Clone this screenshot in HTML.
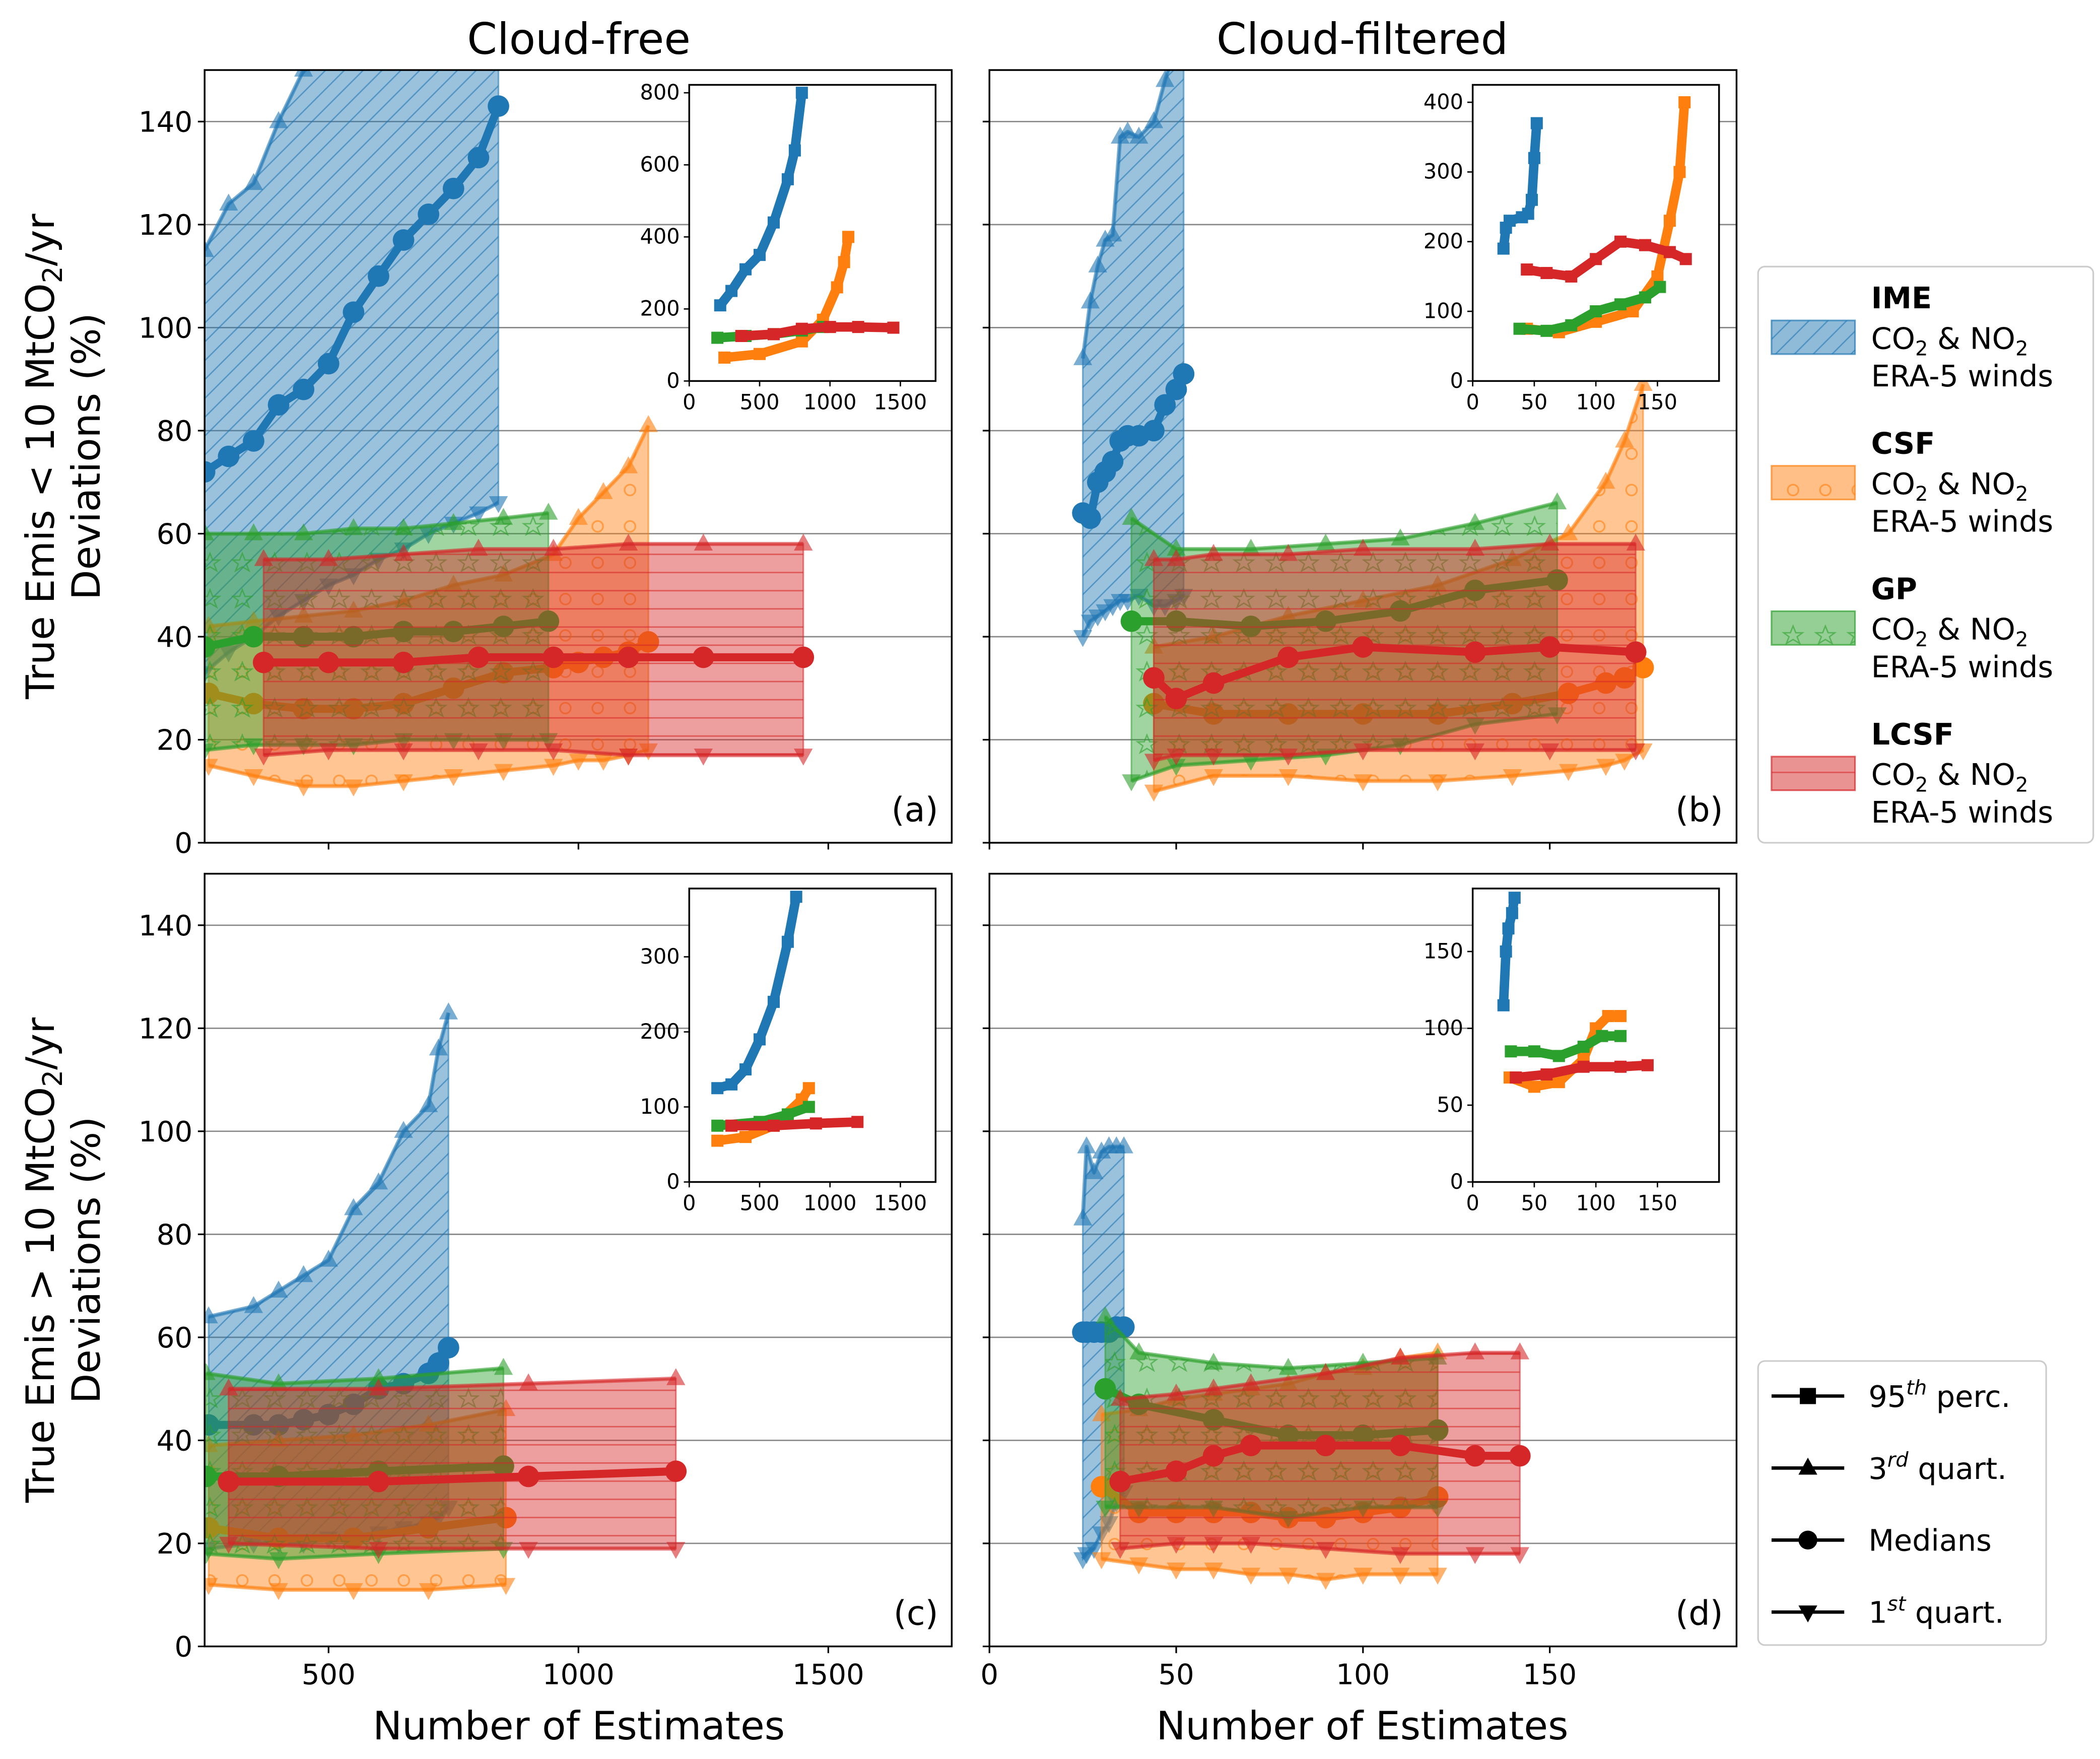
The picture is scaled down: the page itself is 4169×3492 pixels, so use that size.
<!DOCTYPE html>
<html><head><meta charset="utf-8"><style>
html,body{margin:0;padding:0;background:#fff;}
svg{display:block;font-family:"DejaVu Sans","Liberation Sans",sans-serif;}
</style></head><body>
<svg id="fig" width="4169" height="3492" viewBox="0 0 1560 1306.6" xmlns="http://www.w3.org/2000/svg">
<defs>
<pattern id="h-ime" patternUnits="userSpaceOnUse" width="14" height="14"><path d="M-2,16 L16,-2 M-2,2 L2,-2 M12,16 L16,12" stroke="#1f77b4" stroke-opacity="0.6" stroke-width="1"/></pattern>
<pattern id="h-csf" patternUnits="userSpaceOnUse" width="24" height="27"><circle cx="12" cy="13" r="4" fill="none" stroke="#ff7f0e" stroke-opacity="0.6" stroke-width="1.2"/></pattern>
<pattern id="h-gp" patternUnits="userSpaceOnUse" width="24" height="27"><path d="M12,6 L14,11 L19,11 L15,14 L17,19 L12,16 L7,19 L9,14 L5,11 L10,11 Z" fill="none" stroke="#2ca02c" stroke-opacity="0.6" stroke-width="1"/></pattern>
<pattern id="h-lcsf" patternUnits="userSpaceOnUse" width="20" height="13.5"><path d="M0,6.75 L20,6.75" stroke="#d62728" stroke-opacity="0.6" stroke-width="1"/></pattern>
</defs>
</svg>
<script>
// ---------- Panel (a) data ----------
const a_IME_x=[252,300,350,400,450,500,550,600,650,700,750,800,840];
const a_IME_q3=[115,124,128,140,150,165,180,200,215,230,250,270,290];
const a_IME_med=[72,75,78,85,88,93,103,110,117,122,127,133,143];
const a_IME_q1=[33,37,40,44,47,50,52,55,57,60,62,64,66];
const a_CSF_x=[260,350,450,550,650,750,850,950,1000,1050,1100,1140];
const a_CSF_q3=[42,43,44,45,47,50,52,56,63,68,73,81];
const a_CSF_med=[29,27,26,26,27,30,33,34,35,36,37,39];
const a_CSF_q1=[15,13,11,11,12,13,14,15,16,16,17,18];
const a_GP_x=[252,350,450,550,650,750,850,940];
const a_GP_q3=[60,60,60,61,61,62,63,64];
const a_GP_med=[38,40,40,40,41,41,42,43];
const a_GP_q1=[18,19,19,19,20,20,20,20];
const a_LCSF_x=[370,500,650,800,950,1100,1250,1450];
const a_LCSF_q3=[55,55,56,57,57,58,58,58];
const a_LCSF_med=[35,35,35,36,36,36,36,36];
const a_LCSF_q1=[17,18,18,18,18,17,17,17];
const a_in_IME_x=[220,300,400,500,600,700,750,800];
const a_in_IME_p95=[210,250,310,350,440,560,640,800];
const a_in_CSF_x=[250,500,800,950,1050,1100,1130];
const a_in_CSF_p95=[65,75,110,170,260,330,400];
const a_in_GP_x=[200,400,600,800,950];
const a_in_GP_p95=[120,125,130,140,150];
const a_in_LCSF_x=[370,600,800,1000,1200,1450];
const a_in_LCSF_p95=[125,130,145,150,150,148];
// ---------- Panel (b) data ----------
const b_IME_x=[25,27,29,31,33,35,37,40,44,47,50,52];
const b_IME_q3=[94,105,112,117,118,137,138,137,140,148,155,160];
const b_IME_med=[64,63,70,72,74,78,79,79,80,85,88,91];
const b_IME_q1=[40,43,44,45,46,47,47,48,46,46,47,48];
const b_CSF_x=[44,60,80,100,120,140,155,165,170,175];
const b_CSF_q3=[38,40,44,47,50,55,60,70,78,89];
const b_CSF_med=[27,25,25,25,25,27,29,31,32,34];
const b_CSF_q1=[10,13,13,12,12,13,14,15,16,18];
const b_GP_x=[38,50,70,90,110,130,152];
const b_GP_q3=[63,57,57,58,59,62,66];
const b_GP_med=[43,43,42,43,45,49,51];
const b_GP_q1=[12,15,16,17,19,23,25];
const b_LCSF_x=[44,50,60,80,100,130,150,173];
const b_LCSF_q3=[55,55,56,56,57,57,58,58];
const b_LCSF_med=[32,28,31,36,38,37,38,37];
const b_LCSF_q1=[16,17,17,17,18,18,18,18];
const b_in_IME_x=[25,27,30,40,45,48,50,52];
const b_in_IME_p95=[190,220,230,235,240,260,320,370];
const b_in_CSF_x=[44,70,100,130,150,160,168,172];
const b_in_CSF_p95=[75,70,85,100,150,230,300,400];
const b_in_GP_x=[38,60,80,100,120,140,152];
const b_in_GP_p95=[75,72,80,100,110,120,135];
const b_in_LCSF_x=[44,60,80,100,120,140,160,173];
const b_in_LCSF_p95=[160,155,150,175,200,195,185,175];
// ---------- Panel (c) data ----------
const c_IME_x=[260,350,400,450,500,550,600,650,700,720,740];
const c_IME_q3=[64,66,69,72,75,85,90,100,105,116,123];
const c_IME_med=[43,43,43,44,45,47,50,51,53,55,58];
const c_IME_q1=[19,20,20,20,21,21,22,23,24,25,27];
const c_CSF_x=[260,400,550,700,855];
const c_CSF_q3=[39,40,41,43,46];
const c_CSF_med=[23,21,21,23,25];
const c_CSF_q1=[12,11,11,11,12];
const c_GP_x=[255,400,600,850];
const c_GP_q3=[53,51,52,54];
const c_GP_med=[33,33,34,35];
const c_GP_q1=[18,17,18,19];
const c_LCSF_x=[300,600,900,1195];
const c_LCSF_q3=[50,50,51,52];
const c_LCSF_med=[32,32,33,34];
const c_LCSF_q1=[20,19,19,19];
const c_in_IME_x=[200,300,400,500,600,700,760];
const c_in_IME_p95=[125,130,150,190,240,320,380];
const c_in_CSF_x=[200,400,600,800,850];
const c_in_CSF_p95=[55,60,75,110,125];
const c_in_GP_x=[200,500,700,850];
const c_in_GP_p95=[75,80,90,100];
const c_in_LCSF_x=[300,600,900,1195];
const c_in_LCSF_p95=[75,75,78,80];
// ---------- Panel (d) data ----------
const d_IME_x=[25,26,28,30,32,34,36];
const d_IME_q3=[83,97,92,96,97,97,97];
const d_IME_med=[61,61,61,61,61,62,62];
const d_IME_q1=[17,18,19,22,24,28,30];
const d_CSF_x=[30,40,50,60,70,80,90,100,110,120];
const d_CSF_q3=[45,46,48,49,50,51,53,54,56,57];
const d_CSF_med=[31,26,26,26,26,25,25,26,27,29];
const d_CSF_q1=[17,16,15,15,14,14,13,14,14,14];
const d_GP_x=[31,40,60,80,100,120];
const d_GP_q3=[64,57,55,54,55,56];
const d_GP_med=[50,47,44,41,41,42];
const d_GP_q1=[27,27,27,25,27,27];
const d_LCSF_x=[35,50,60,70,90,110,130,142];
const d_LCSF_q3=[48,49,50,51,53,56,57,57];
const d_LCSF_med=[32,34,37,39,39,39,37,37];
const d_LCSF_q1=[19,20,20,20,19,18,18,18];
const d_in_IME_x=[25,27,29,32,34];
const d_in_IME_p95=[115,150,165,175,185];
const d_in_CSF_x=[30,50,70,90,100,110,120];
const d_in_CSF_p95=[68,62,65,80,100,108,108];
const d_in_GP_x=[31,50,70,90,105,120];
const d_in_GP_p95=[85,85,82,88,95,95];
const d_in_LCSF_x=[35,60,90,120,142];
const d_in_LCSF_p95=[68,70,75,75,76];

const yTicks=[0,20,40,60,80,100,120,140];
const aXTicks=[500,1000,1500];
const bXTicks=[0,50,100,150];
const inAXTicks=[0,500,1000,1500];
const inBXTicks=[0,50,100,150];
const inAYTicks=[0,200,400,600,800];
const inBYTicks=[0,100,200,300,400];
const inCYTicks=[0,100,200,300];
const inDYTicks=[0,50,100,150];

const NS='http://www.w3.org/2000/svg';
const svg=document.getElementById('fig');
const COL={IME:'#1f77b4',CSF:'#ff7f0e',GP:'#2ca02c',LCSF:'#d62728'};
function mk(tag,attrs,parent){const e=document.createElementNS(NS,tag);for(const k in attrs)e.setAttribute(k,attrs[k]);(parent||svg).appendChild(e);return e;}
function txt(s,x,y,size,anchor,parent,extra){const t=mk('text',Object.assign({x:x,y:y,'font-size':size,'text-anchor':anchor||'middle',fill:'#000'},extra||{}),parent);t.textContent=s;return t;}

function marker(g,type,x,y,c,s,op){
  let e;
  if(type==='o'){e=mk('circle',{cx:x,cy:y,r:s,fill:c,'fill-opacity':op},g);}
  else if(type==='^'){e=mk('path',{d:`M${x},${y-s*1.1} L${x+s},${y+s*0.7} L${x-s},${y+s*0.7} Z`,fill:c,'fill-opacity':op},g);}
  else if(type==='v'){e=mk('path',{d:`M${x},${y+s*1.1} L${x+s},${y-s*0.7} L${x-s},${y-s*0.7} Z`,fill:c,'fill-opacity':op},g);}
  else {e=mk('rect',{x:x-s,y:y-s,width:2*s,height:2*s,fill:c},g);}
  
  
}

function panel(P){
  const sx=v=>P.x0+(v-P.xmin)/(P.xmax-P.xmin)*(P.x1-P.x0);
  const sy=v=>P.y1-(v-0)/(150)*(P.y1-P.y0);
  const g=mk('g',{});
  
  
  yTicks.forEach(v=>{ if(v>0){const l=mk('line',{x1:P.x0,x2:P.x1,y1:sy(v),y2:sy(v),stroke:'#888','stroke-width':1},g);
    
    }});
  const cid='clip-'+P.id;
  const cp=mk('clipPath',{id:cid},g); mk('rect',{x:P.x0,y:P.y0,width:P.x1-P.x0,height:P.y1-P.y0},cp);
  const dg=mk('g',{'clip-path':`url(#${cid})`},g);
  P.series.forEach(S=>{
    const c=COL[S.m];
    const sg=mk('g',{},dg);
    
    
    let d='';
    S.x.forEach((v,i)=>{d+=(i?'L':'M')+sx(v)+','+sy(S.q3[i]);});
    for(let i=S.x.length-1;i>=0;i--)d+='L'+sx(S.x[i])+','+sy(S.q1[i]);
    d+='Z';
    const band=mk('path',{d:d,fill:c,'fill-opacity':0.45,stroke:c,'stroke-opacity':0.55,'stroke-width':1.2},sg);
    
    
    const hat=mk('path',{d:d,fill:`url(#h-${S.m.toLowerCase()})`},sg);
    
    
    [['q3','^',0.6,7,3],['q1','v',0.6,7,3],['med','o',1,8,6]].forEach(([k,t,op,s,w])=>{
      let ld='';S.x.forEach((v,i)=>{ld+=(i?'L':'M')+sx(v)+','+sy(S[k][i]);});
      const ln=mk('path',{d:ld,fill:'none',stroke:c,'stroke-width':w,'stroke-opacity':op,'stroke-linejoin':'round'},sg);
      
      
      S.x.forEach((v,i)=>marker(sg,t,sx(v),sy(S[k][i]),c,s,op));
    });
  });
  const fr=mk('rect',{x:P.x0,y:P.y0,width:P.x1-P.x0,height:P.y1-P.y0,fill:'none',stroke:'#000','stroke-width':1.3},g);
  
  
  yTicks.forEach(v=>{mk('line',{x1:P.x0-5,x2:P.x0,y1:sy(v),y2:sy(v),stroke:'#000','stroke-width':1.2},g);
    if(P.ylab){const t=txt(String(v),P.x0-9,sy(v)+7.5,21,'end',g);
      
      }});
  P.xt.forEach(v=>{mk('line',{x1:sx(v),x2:sx(v),y1:P.y1,y2:P.y1+5,stroke:'#000','stroke-width':1.2},g);
    if(P.xlab){const t=txt(String(v),sx(v),P.y1+28,21,'middle',g);
      
      }});
  const pl=txt(P.letter,P.x1-10,P.y1-16,25,'end',g);
  
  
  const I=P.inset;
  const ix=v=>I.x0+(v-I.xmin)/(I.xmax-I.xmin)*(I.x1-I.x0);
  const iy=v=>I.y1-v/I.ymax*(I.y1-I.y0);
  const ig=mk('g',{},g);
  
  
  mk('rect',{x:I.x0,y:I.y0,width:I.x1-I.x0,height:I.y1-I.y0,fill:'#fff'},ig);
  const icid='iclip-'+P.id;
  const icp=mk('clipPath',{id:icid},ig); mk('rect',{x:I.x0,y:I.y0,width:I.x1-I.x0,height:I.y1-I.y0},icp);
  const idg=mk('g',{'clip-path':`url(#${icid})`},ig);
  I.series.forEach(S=>{
    const c=COL[S.m];
    let ld='';S.x.forEach((v,i)=>{ld+=(i?'L':'M')+ix(v)+','+iy(S.p[i]);});
    const ln=mk('path',{d:ld,fill:'none',stroke:c,'stroke-width':7,'stroke-linejoin':'round'},idg);
    
    
    S.x.forEach((v,i)=>marker(idg,'s',ix(v),iy(S.p[i]),c,4.5,1));
  });
  mk('rect',{x:I.x0,y:I.y0,width:I.x1-I.x0,height:I.y1-I.y0,fill:'none',stroke:'#000','stroke-width':1.3},ig);
  I.yt.forEach(v=>{mk('line',{x1:I.x0-4,x2:I.x0,y1:iy(v),y2:iy(v),stroke:'#000','stroke-width':1},ig);
    const t=txt(String(v),I.x0-7,iy(v)+5,15.5,'end',ig);
    
    });
  I.xt.forEach(v=>{mk('line',{x1:ix(v),x2:ix(v),y1:I.y1,y2:I.y1+4,stroke:'#000','stroke-width':1},ig);
    const t=txt(String(v),ix(v),I.y1+21,15.5,'middle',ig);
    
    });
}
function S4(p){return ['IME','CSF','GP','LCSF'].map(m=>({m:m,x:p[m+'_x'],q3:p[m+'_q3'],med:p[m+'_med'],q1:p[m+'_q1']}));}
function I4(p){return ['IME','CSF','GP','LCSF'].map(m=>({m:m,x:p[m+'_x'],p:p[m+'_p95']}));}

panel({id:'a',letter:'(a)',x0:152,x1:707,y0:52,y1:626,xmin:252,xmax:1747,ylab:true,xlab:false,xt:aXTicks,
 series:S4({IME_x:a_IME_x,IME_q3:a_IME_q3,IME_med:a_IME_med,IME_q1:a_IME_q1,CSF_x:a_CSF_x,CSF_q3:a_CSF_q3,CSF_med:a_CSF_med,CSF_q1:a_CSF_q1,GP_x:a_GP_x,GP_q3:a_GP_q3,GP_med:a_GP_med,GP_q1:a_GP_q1,LCSF_x:a_LCSF_x,LCSF_q3:a_LCSF_q3,LCSF_med:a_LCSF_med,LCSF_q1:a_LCSF_q1}),
 inset:{x0:512,x1:695,y0:63,y1:283,xmin:0,xmax:1750,ymax:822,xt:inAXTicks,yt:inAYTicks,
  series:I4({IME_x:a_in_IME_x,IME_p95:a_in_IME_p95,CSF_x:a_in_CSF_x,CSF_p95:a_in_CSF_p95,GP_x:a_in_GP_x,GP_p95:a_in_GP_p95,LCSF_x:a_in_LCSF_x,LCSF_p95:a_in_LCSF_p95})}});
panel({id:'b',letter:'(b)',x0:735,x1:1290,y0:52,y1:626,xmin:0,xmax:200,ylab:false,xlab:false,xt:bXTicks,
 series:S4({IME_x:b_IME_x,IME_q3:b_IME_q3,IME_med:b_IME_med,IME_q1:b_IME_q1,CSF_x:b_CSF_x,CSF_q3:b_CSF_q3,CSF_med:b_CSF_med,CSF_q1:b_CSF_q1,GP_x:b_GP_x,GP_q3:b_GP_q3,GP_med:b_GP_med,GP_q1:b_GP_q1,LCSF_x:b_LCSF_x,LCSF_q3:b_LCSF_q3,LCSF_med:b_LCSF_med,LCSF_q1:b_LCSF_q1}),
 inset:{x0:1094,x1:1277,y0:63,y1:283,xmin:0,xmax:200,ymax:425,xt:inBXTicks,yt:inBYTicks,
  series:I4({IME_x:b_in_IME_x,IME_p95:b_in_IME_p95,CSF_x:b_in_CSF_x,CSF_p95:b_in_CSF_p95,GP_x:b_in_GP_x,GP_p95:b_in_GP_p95,LCSF_x:b_in_LCSF_x,LCSF_p95:b_in_LCSF_p95})}});
panel({id:'c',letter:'(c)',x0:152,x1:707,y0:649,y1:1223,xmin:252,xmax:1747,ylab:true,xlab:true,xt:aXTicks,
 series:S4({IME_x:c_IME_x,IME_q3:c_IME_q3,IME_med:c_IME_med,IME_q1:c_IME_q1,CSF_x:c_CSF_x,CSF_q3:c_CSF_q3,CSF_med:c_CSF_med,CSF_q1:c_CSF_q1,GP_x:c_GP_x,GP_q3:c_GP_q3,GP_med:c_GP_med,GP_q1:c_GP_q1,LCSF_x:c_LCSF_x,LCSF_q3:c_LCSF_q3,LCSF_med:c_LCSF_med,LCSF_q1:c_LCSF_q1}),
 inset:{x0:512,x1:695,y0:660,y1:878,xmin:0,xmax:1750,ymax:391,xt:inAXTicks,yt:inCYTicks,
  series:I4({IME_x:c_in_IME_x,IME_p95:c_in_IME_p95,CSF_x:c_in_CSF_x,CSF_p95:c_in_CSF_p95,GP_x:c_in_GP_x,GP_p95:c_in_GP_p95,LCSF_x:c_in_LCSF_x,LCSF_p95:c_in_LCSF_p95})}});
panel({id:'d',letter:'(d)',x0:735,x1:1290,y0:649,y1:1223,xmin:0,xmax:200,ylab:false,xlab:true,xt:bXTicks,
 series:S4({IME_x:d_IME_x,IME_q3:d_IME_q3,IME_med:d_IME_med,IME_q1:d_IME_q1,CSF_x:d_CSF_x,CSF_q3:d_CSF_q3,CSF_med:d_CSF_med,CSF_q1:d_CSF_q1,GP_x:d_GP_x,GP_q3:d_GP_q3,GP_med:d_GP_med,GP_q1:d_GP_q1,LCSF_x:d_LCSF_x,LCSF_q3:d_LCSF_q3,LCSF_med:d_LCSF_med,LCSF_q1:d_LCSF_q1}),
 inset:{x0:1094,x1:1277,y0:660,y1:878,xmin:0,xmax:200,ymax:191,xt:inBXTicks,yt:inDYTicks,
  series:I4({IME_x:d_in_IME_x,IME_p95:d_in_IME_p95,CSF_x:d_in_CSF_x,CSF_p95:d_in_CSF_p95,GP_x:d_in_GP_x,GP_p95:d_in_GP_p95,LCSF_x:d_in_LCSF_x,LCSF_p95:d_in_LCSF_p95})}});

let t;
t=txt('Cloud-free',430,40,32);


t=txt('Cloud-filtered',1012,40,32);


t=txt('Number of Estimates',430,1292,29);


t=txt('Number of Estimates',1012,1292,29);


function ylabel(cy,sym,name){
  const g=mk('g',{transform:`translate(0,${cy}) rotate(-90)`});
  
  
  const a=mk('text',{x:0,y:40,'font-size':29,'text-anchor':'middle'},g);
  a.innerHTML=`True Emis ${sym} 10 MtCO<tspan font-size="20" dy="6">2</tspan><tspan dy="-6">/yr</tspan>`;
  const b=mk('text',{x:0,y:74,'font-size':29,'text-anchor':'middle'},g);
  b.textContent='Deviations (%)';
}
ylabel(339,'&lt;','y-axis-title-top');
ylabel(936,'&gt;','y-axis-title-bottom');

const lg=mk('g',{});


mk('rect',{x:1306,y:198,width:249,height:428,rx:5,fill:'#fff',stroke:'#ccc','stroke-width':1.2},lg);
['IME','CSF','GP','LCSF'].forEach((m,i)=>{
  const y=198+i*108;
  const c=COL[m];
  const r=mk('rect',{x:1316,y:y+40,width:62,height:25,fill:c,'fill-opacity':0.5,stroke:c,'stroke-opacity':0.7,'stroke-width':1.2},lg);
  
  
  mk('rect',{x:1316,y:y+40,width:62,height:25,fill:`url(#h-${m.toLowerCase()})`},lg);
  const a=txt(m,1390,y+31,22,'start',lg,{'font-weight':'bold'});
  
  
  const b=mk('text',{x:1390,y:y+61,'font-size':22},lg);
  b.innerHTML='CO<tspan font-size="15" dy="5">2</tspan><tspan dy="-5"> &amp; NO</tspan><tspan font-size="15" dy="5">2</tspan>';
  txt('ERA-5 winds',1390,y+89,22,'start',lg);
});
const lg2=mk('g',{});


mk('rect',{x:1306,y:1011,width:214,height:211,rx:5,fill:'#fff',stroke:'#ccc','stroke-width':1.2},lg2);
[['s','95','th',' perc.'],['^','3','rd',' quart.'],['o','Medians','',''],['v','1','st',' quart.']].forEach((e,i)=>{
  const y=1037+i*53.5;
  mk('line',{x1:1316,x2:1370,y1:y,y2:y,stroke:'#000','stroke-width':2.5},lg2);
  marker(lg2,e[0],1343,y,'#000',e[0]==='s'?6:7,1);
  const tt=mk('text',{x:1388,y:y+8,'font-size':22},lg2);
  tt.innerHTML=e[2]?`${e[1]}<tspan font-size="15" font-style="italic" dy="-9">${e[2]}</tspan><tspan dy="9">${e[3]}</tspan>`:e[1];
  
  
});
</script>
</body></html>
